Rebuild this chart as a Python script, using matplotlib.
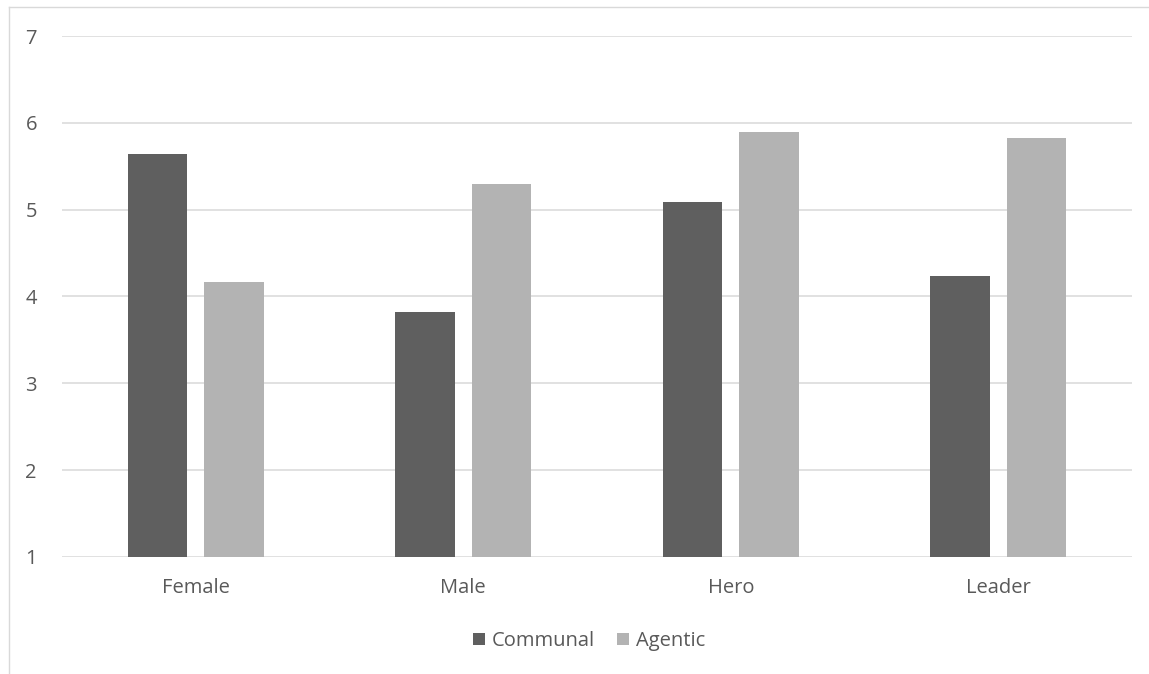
import matplotlib
matplotlib.use("Agg")
import matplotlib.pyplot as plt
from matplotlib.lines import Line2D
from matplotlib.patches import Patch
import numpy as np

categories = ["Female", "Male", "Hero", "Leader"]
communal = [5.64, 3.82, 5.09, 4.24]
agentic = [4.17, 5.29, 5.89, 5.82]
series_names = ["Communal", "Agentic"]
colors = ["#5f5f5f", "#b3b3b3"]
yticks = [1, 2, 3, 4, 5, 6, 7]

plt.rcParams["font.family"] = ["Open Sans", "DejaVu Sans"]
text_color = "#595959"
fs = 14.5

W, H = 1149, 674
fig = plt.figure(figsize=(W / 100, H / 100), dpi=100)
ax = fig.add_axes([62 / W, 1 - 557 / H, (1132 - 62) / W, (557 - 36) / H])

x = np.arange(len(categories))
width = 0.222
offset = 0.143
ax.bar(x - offset, np.array(communal) - 1, width, bottom=1, color=colors[0], zorder=3)
ax.bar(x + offset, np.array(agentic) - 1, width, bottom=1, color=colors[1], zorder=3)

ax.set_xlim(-0.5, len(categories) - 0.5)
ax.set_ylim(1, 7)
ax.set_yticks(yticks)
ax.set_xticks(x)
ax.set_xticklabels(categories)
ax.grid(axis="y", color="#d9d9d9", linewidth=1.1, zorder=0)
for s in ax.spines.values():
    s.set_visible(False)
ax.tick_params(axis="both", length=0, labelsize=fs, colors=text_color)
ax.tick_params(axis="y", pad=18)
ax.tick_params(axis="x", pad=15)

handles = [Patch(facecolor=c, edgecolor="none") for c in colors]
fig.legend(handles, series_names, loc="center", bbox_to_anchor=(589 / W, 1 - 641 / H),
           ncol=2, frameon=False, fontsize=fs, labelcolor=text_color,
           handlelength=0.6, handleheight=0.6, handletextpad=0.35, columnspacing=1.05)

# chart-area border (top and left edges)
fig.add_artist(Line2D([8.5 / W, 1.0], [1 - 7 / H, 1 - 7 / H], color="#d9d9d9", linewidth=1.0))
fig.add_artist(Line2D([8.5 / W, 8.5 / W], [0, 1 - 7 / H], color="#d9d9d9", linewidth=1.0))

fig.savefig("out.png", dpi=100, facecolor="white")
